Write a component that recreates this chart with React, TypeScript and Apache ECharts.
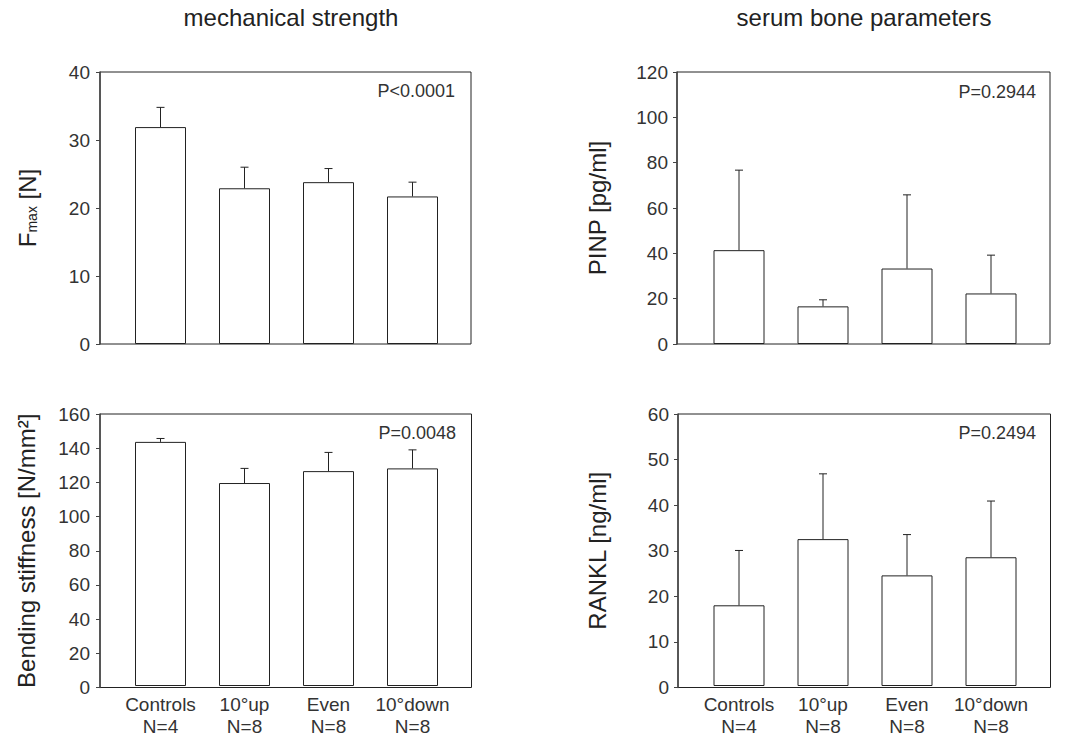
import React, { useEffect, useRef } from "react";
import * as echarts from "echarts";

const groups = ["Controls", "10°up", "Even", "10°down"];
const groupN = ["N=4", "N=8", "N=8", "N=8"];

const fmaxMean = [31.9, 22.9, 23.8, 21.7];
const fmaxSD = [2.9, 3.1, 2.0, 2.1];
const pinpMean = [41.4, 16.6, 33.3, 22.3];
const pinpSD = [35.3, 2.9, 32.5, 16.9];
const stiffMean = [143.6, 119.4, 126.4, 128.0];
const stiffSD = [2.0, 8.6, 11.0, 10.9];
const ranklMean = [17.8, 32.4, 24.4, 28.4];
const ranklSD = [12.1, 14.4, 9.0, 12.4];

const pValues = ["P<0.0001", "P=0.2944", "P=0.0048", "P=0.2494"];
const yMax = [40, 120, 160, 60];
const yStep = [10, 20, 20, 10];
const yNames = [
  "{f|F}{sub|max}{f| [N]}",
  "PINP [pg/ml]",
  "Bending stiffness [N/mm²]",
  "RANKL [ng/ml]",
];
const titles = ["mechanical strength", "serum bone parameters"];

const FONT = "'Liberation Sans', Arial, sans-serif";
const INK = "#222";
const TXT = "#333";

export default function App() {
  const ref = useRef<HTMLDivElement>(null);

  useEffect(() => {
    const chart = echarts.init(ref.current!, null, { renderer: "svg" });
    const layouts = [
      { left: 100, top: 72, width: 371, height: 272, innerLeft: 118.5, nameGap: 61, showX: false, labelMargin: 10, pRight: 455, pY: 91 },
      { left: 677, top: 72, width: 373, height: 272, innerLeft: 697, nameGap: 68, showX: false, labelMargin: 9, pRight: 1036, pY: 92 },
      { left: 100, top: 414, width: 371.5, height: 273.5, innerLeft: 118.5, nameGap: 62, showX: true, labelMargin: 10, pRight: 456, pY: 433 },
      { left: 678, top: 414, width: 372.5, height: 273.5, innerLeft: 697, nameGap: 69, showX: true, labelMargin: 9, pRight: 1036, pY: 433 },
    ];
    const means = [fmaxMean, pinpMean, stiffMean, ranklMean];
    const sds = [fmaxSD, pinpSD, stiffSD, ranklSD];

    const grid: any[] = [];
    const xAxis: any[] = [];
    const yAxis: any[] = [];
    const series: any[] = [];
    const graphic: any[] = [];

    layouts.forEach((L, i) => {
      grid.push({
        left: L.left, top: L.top, width: L.width, height: L.height,
        show: true, borderColor: INK, borderWidth: 1, backgroundColor: "transparent",
      });
      grid.push({
        left: L.innerLeft, top: L.top, width: 336, height: L.height,
      });
      xAxis.push({ type: "value", gridIndex: 2 * i, min: 0, max: 1, show: false });
      xAxis.push({
        type: "category",
        gridIndex: 2 * i + 1,
        data: groups.map((g, k) => g + "\n" + groupN[k]),
        axisLine: { show: false },
        axisTick: { show: false },
        splitLine: { show: false },
        axisLabel: {
          show: L.showX, interval: 0, fontSize: 19, lineHeight: 22,
          color: TXT, fontFamily: FONT, margin: 7,
        },
      });
      yAxis.push({
        type: "value",
        gridIndex: 2 * i,
        min: 0, max: yMax[i], interval: yStep[i],
        axisLine: { show: true, lineStyle: { color: "#444", width: 1.5 } },
        axisTick: { show: true, inside: false, length: 4, lineStyle: { color: "#444", width: 1 } },
        axisLabel: { fontSize: 19, color: TXT, fontFamily: FONT, margin: L.labelMargin },
        splitLine: { show: false },
        name: yNames[i],
        nameLocation: "middle",
        nameGap: L.nameGap,
        nameTextStyle: {
          fontSize: 24, color: INK, fontFamily: FONT,
          rich: {
            f: { fontSize: 24, color: INK, fontFamily: FONT },
            sub: { fontSize: 14, color: INK, fontFamily: FONT, verticalAlign: "bottom" },
          },
        },
      });
      yAxis.push({ type: "value", gridIndex: 2 * i + 1, min: 0, max: yMax[i], show: false });

      series.push({
        type: "bar",
        xAxisIndex: 2 * i + 1,
        yAxisIndex: 2 * i + 1,
        data: means[i],
        barWidth: 51,
        silent: true,
        itemStyle: { color: "#fff", borderColor: INK, borderWidth: 1 },
      });
      series.push({
        type: "custom",
        xAxisIndex: 2 * i + 1,
        yAxisIndex: 2 * i + 1,
        silent: true,
        z: 5,
        data: means[i].map((m, k) => [k, m, m + sds[i][k]]),
        encode: { x: 0, y: [1, 2] },
        renderItem: (params: any, api: any) => {
          const x = api.value(0);
          const lo = api.coord([x, api.value(1)]);
          const hi = api.coord([x, api.value(2)]);
          const st = { stroke: INK, lineWidth: 1 };
          return {
            type: "group",
            children: [
              { type: "line", shape: { x1: lo[0], y1: lo[1], x2: hi[0], y2: hi[1] }, style: st },
              { type: "line", shape: { x1: hi[0] - 4, y1: hi[1], x2: hi[0] + 4, y2: hi[1] }, style: st },
            ],
          };
        },
      });

      graphic.push({
        type: "text",
        x: L.pRight,
        y: L.pY,
        style: {
          text: pValues[i], fontSize: 18, fontFamily: FONT, fill: TXT,
          textAlign: "right", textVerticalAlign: "middle",
        },
      });
    });

    graphic.push({
      type: "text", x: 291, y: 17,
      style: { text: titles[0], fontSize: 24, fontFamily: FONT, fill: INK, textAlign: "center", textVerticalAlign: "middle" },
    });
    graphic.push({
      type: "text", x: 864, y: 17,
      style: { text: titles[1], fontSize: 24, fontFamily: FONT, fill: INK, textAlign: "center", textVerticalAlign: "middle" },
    });

    chart.setOption({
      animation: false,
      backgroundColor: "#fff",
      grid,
      xAxis,
      yAxis,
      series,
      graphic,
    });
    return () => chart.dispose();
  }, []);

  return (
    <div
      ref={ref}
      style={{ position: "fixed", left: 0, top: 0, width: 1068, height: 737, background: "#fff" }}
    />
  );
}
